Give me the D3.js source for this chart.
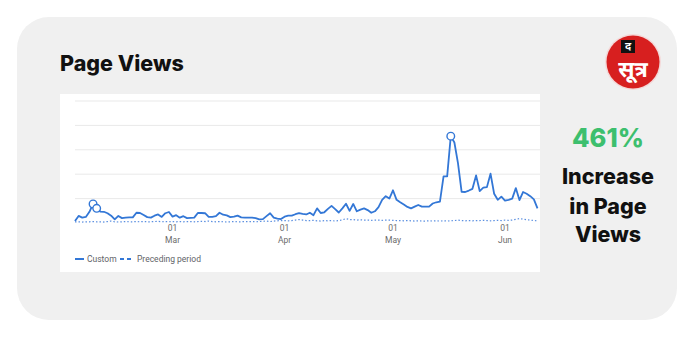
<!DOCTYPE html>
<html><head><meta charset="utf-8">
<script src="https://cdn.jsdelivr.net/npm/d3@7"></script>
<style>html,body{margin:0;padding:0;background:#fff;}svg{display:block;}</style>
</head><body>
<svg id="c" width="694" height="338"></svg>
<script>
const startDate = "2024-02-03";
const customValues = [0.08,0.29,0.22,0.25,0.46,0.78,0.6,0.47,0.46,0.4,0.3,0.15,0.29,0.2,0.22,0.23,0.23,0.42,0.41,0.33,0.24,0.22,0.3,0.35,0.25,0.4,0.45,
0.26,0.32,0.22,0.28,0.2,0.21,0.22,0.41,0.41,0.4,0.25,0.25,0.28,0.42,0.34,0.31,0.24,0.26,0.3,0.23,0.22,0.22,0.22,0.2,0.15,0.16,0.28,0.4,0.22,0.18,0.16,
0.26,0.3,0.3,0.36,0.4,0.37,0.35,0.42,0.32,0.6,0.41,0.44,0.58,0.7,0.57,0.43,0.6,0.79,0.5,0.78,0.48,0.55,0.6,0.53,0.42,0.48,0.65,0.95,1.1,1.0,1.34,0.95,
0.85,0.76,0.66,0.6,0.67,0.74,0.67,0.67,0.67,0.8,0.85,0.88,1.91,1.91,3.56,3.3,2.44,1.28,1.27,1.33,1.4,1.95,1.31,1.45,1.47,2.02,1.2,
0.95,1.08,0.92,0.95,1.0,1.43,0.94,1.27,1.2,1.1,0.97,0.6];
const precedingValues = [0.05,0.05,0.04,0.05,0.05,0.06,0.05,0.05,0.04,0.06,0.08,0.05,0.04,0.05,0.06,0.05,0.05,0.06,0.05,0.06,0.05,0.05,0.06,0.07,0.05,0.06,0.05,
0.06,0.05,0.06,0.05,0.06,0.06,0.05,0.06,0.07,0.06,0.08,0.06,0.05,0.06,0.05,0.04,0.05,0.06,0.05,0.05,0.06,0.05,0.06,0.05,0.06,0.07,0.08,0.06,0.08,0.09,0.1,
0.1,0.09,0.1,0.12,0.14,0.12,0.1,0.1,0.11,0.09,0.08,0.1,0.09,0.1,0.08,0.1,0.13,0.18,0.14,0.14,0.12,0.13,0.12,0.12,0.11,0.12,0.12,0.11,0.12,0.12,0.11,0.1,
0.1,0.09,0.1,0.09,0.08,0.09,0.08,0.08,0.09,0.08,0.09,0.08,0.09,0.08,0.09,0.1,0.12,0.1,0.09,0.1,0.09,0.1,0.1,0.11,0.1,0.09,0.1,
0.11,0.1,0.12,0.11,0.12,0.15,0.18,0.16,0.13,0.12,0.1,0.09];
const markerDays = [5, 6, 104];
const yTicks = [1,2,3,4,5];
const xTickLabels = [["01","Mar"],["01","Apr"],["01","May"],["01","Jun"]];
const xTickDates = ["2024-03-01","2024-04-01","2024-05-01","2024-06-01"];
const legendItems = ["Custom","Preceding period"];
const title = "Page Views";
const statLines = ["461%","Increase","in Page","Views"];

const parse = d3.timeParse("%Y-%m-%d");
const t0 = parse(startDate);
const dates = customValues.map((_,i)=>d3.timeDay.offset(t0,i));
const svg = d3.select("#c");
const blue = "#3377d6";
const font = "Inter, 'Noto Sans', sans-serif";

svg.append("rect").attr("x",17).attr("y",17).attr("width",660).attr("height",303).attr("rx",32).attr("fill","#f0f0f0");
svg.append("rect").attr("x",60).attr("y",94).attr("width",480).attr("height",178).attr("fill","#fff");

svg.append("text").attr("x",60).attr("y",71).attr("font-family",font).attr("font-weight",800).attr("font-size",21.5).attr("fill","#111").text(title);

const x = d3.scaleTime().domain([dates[0], dates[dates.length-1]]).range([75, 537.5]);
const y = d3.scaleLinear().domain([0,5]).range([223,101]);

const g = svg.append("g");
g.selectAll("line.grid").data(yTicks).join("line").attr("class","grid")
 .attr("x1",75).attr("x2",540).attr("y1",d=>y(d)).attr("y2",d=>y(d)).attr("stroke","#e9e9e9").attr("stroke-width",1);

const line = d3.line().x((d,i)=>x(dates[i])).y(d=>y(d));
g.append("path").datum(precedingValues).attr("d",line).attr("fill","none").attr("stroke","#5b8fe0").attr("stroke-width",1.2).attr("stroke-dasharray","1.5,2");
g.append("path").datum(customValues).attr("d",line).attr("fill","none").attr("stroke",blue).attr("stroke-width",1.8).attr("stroke-linejoin","round");
g.selectAll("circle.m").data(markerDays).join("circle").attr("class","m")
 .attr("cx",d=>x(dates[d])).attr("cy",d=>y(customValues[d])).attr("r",3.8).attr("fill","#fff").attr("stroke",blue).attr("stroke-width",1.4);

const xt = xTickDates.map(parse);
const ax = g.selectAll("g.xt").data(xt).join("g").attr("class","xt").attr("transform",d=>`translate(${x(d)},0)`);
ax.append("text").attr("y",231).attr("text-anchor","middle").attr("font-family","Roboto, sans-serif").attr("font-size",8.5).attr("fill","#6b6b6b").text((d,i)=>xTickLabels[i][0]);
ax.append("text").attr("y",243).attr("text-anchor","middle").attr("font-family","Roboto, sans-serif").attr("font-size",8.5).attr("fill","#6b6b6b").text((d,i)=>xTickLabels[i][1]);

// legend
svg.append("line").attr("x1",75).attr("x2",84).attr("y1",259).attr("y2",259).attr("stroke",blue).attr("stroke-width",2);
svg.append("text").attr("x",87).attr("y",262).attr("font-family","Roboto, sans-serif").attr("font-size",8.5).attr("fill","#5f6368").text(legendItems[0]);
svg.append("line").attr("x1",120).attr("x2",132).attr("y1",259).attr("y2",259).attr("stroke",blue).attr("stroke-width",2).attr("stroke-dasharray","4,3");
svg.append("text").attr("x",137).attr("y",262).attr("font-family","Roboto, sans-serif").attr("font-size",8.5).attr("fill","#5f6368").text(legendItems[1]);

// stat text
const sy = [147,184,214,242];
svg.selectAll("text.stat").data(statLines).join("text").attr("class","stat")
 .attr("x",608).attr("y",(d,i)=>sy[i]).attr("text-anchor","middle").attr("font-family",font).attr("font-weight",800)
 .attr("font-size",(d,i)=>i===0?25.5:21.5).attr("fill",(d,i)=>i===0?"#3dbf6e":"#111").text(d=>d);

// logo
const lg = svg.append("g").attr("transform","translate(633,62)");
lg.append("circle").attr("r",28).attr("fill","#f4d8d8");
lg.append("circle").attr("r",26.5).attr("fill","#d71f1f");
lg.append("rect").attr("x",-12).attr("y",-22).attr("width",14).attr("height",13).attr("fill","#111");
lg.append("text").attr("x",-5).attr("y",-12).attr("text-anchor","middle").attr("font-family","'Noto Sans Devanagari','Noto Sans',sans-serif").attr("font-weight",700).attr("font-size",11).attr("fill","#fff").text("द");
lg.append("text").attr("x",0).attr("y",15).attr("text-anchor","middle").attr("font-family","'Noto Sans Devanagari','Noto Sans',sans-serif").attr("font-weight",700).attr("font-size",22).attr("fill","#fff").text("सूत्र");
</script>
</body></html>
